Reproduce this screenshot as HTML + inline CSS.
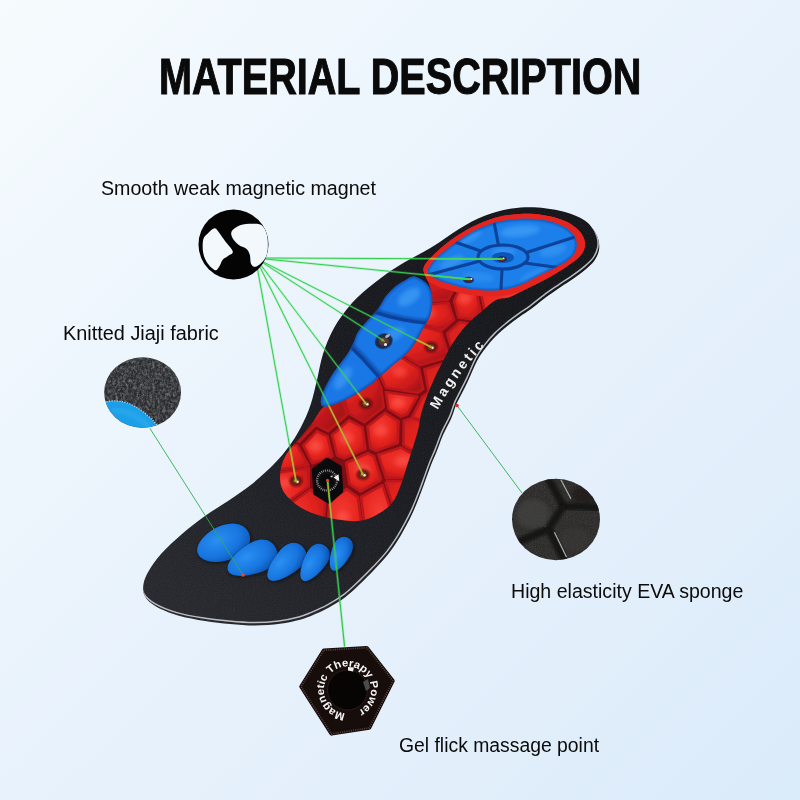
<!DOCTYPE html>
<html><head><meta charset="utf-8">
<style>
html,body{margin:0;padding:0;}
body{width:800px;height:800px;overflow:hidden;position:relative;background:#e8f2fc;font-family:"Liberation Sans",sans-serif;}
#bg{position:absolute;left:0;top:0;width:800px;height:800px;
background:linear-gradient(135deg,#f6fbfd 0%,#eef6fd 29%,#e8f2fc 50%,#e3effb 72%,#daebfa 100%);}
svg{position:absolute;left:0;top:0;}
.t{position:absolute;white-space:nowrap;color:#0b0b0b;transform-origin:0 0;line-height:1;filter:blur(0.3px);}
#title{left:159.3px;top:52px;font-size:50px;font-weight:bold;color:#0a0a0a;transform:scaleX(0.7915);-webkit-text-stroke:1.1px #0a0a0a;}
.lab{font-size:19.4px;transform:scaleX(0.995);}
</style></head><body>
<div id="bg"></div>
<div class="t" id="title">MATERIAL DESCRIPTION</div>
<div class="t lab" id="l1" style="left:101.2px;top:179.4px;transform:scaleX(1.0124);">Smooth weak magnetic magnet</div>
<div class="t lab" id="l2" style="left:63.1px;top:323.5px;transform:scaleX(1.025);">Knitted Jiaji fabric</div>
<div class="t lab" id="l3" style="left:511px;top:581.6px;transform:scaleX(1.009);">High elasticity EVA sponge</div>
<div class="t lab" id="l4" style="left:398.5px;top:735.8px;transform:scaleX(0.998);">Gel flick massage point</div>
<svg id="art" width="800" height="800" viewBox="0 0 800 800">
<defs>
<radialGradient id="gToe" cx="0.42" cy="0.35" r="0.75"><stop offset="0" stop-color="#2a8ff2"/><stop offset="0.6" stop-color="#1674de"/><stop offset="1" stop-color="#0d4da6"/></radialGradient>
<radialGradient id="gCell" cx="0.42" cy="0.38" r="0.72"><stop offset="0" stop-color="#f53d36"/><stop offset="0.55" stop-color="#e6251f"/><stop offset="0.85" stop-color="#c81a1c"/><stop offset="1" stop-color="#a81318"/></radialGradient>
<linearGradient id="gBody" gradientUnits="userSpaceOnUse" x1="560" y1="220" x2="200" y2="620"><stop offset="0" stop-color="#141519"/><stop offset="0.55" stop-color="#1a1b20"/><stop offset="1" stop-color="#26282e"/></linearGradient>
<radialGradient id="gBlue" cx="0.45" cy="0.38" r="0.75"><stop offset="0" stop-color="#3495f5"/><stop offset="0.55" stop-color="#1b7be8"/><stop offset="1" stop-color="#0f57bd"/></radialGradient>
<filter id="noise" x="0" y="0" width="1" height="1"><feTurbulence type="fractalNoise" baseFrequency="0.9" numOctaves="2" seed="3" result="n"/><feColorMatrix in="n" type="matrix" values="0 0 0 0 1  0 0 0 0 1  0 0 0 0 1  0.9 0.9 0.9 0 -1.05" result="m"/><feComposite in="m" in2="SourceGraphic" operator="in"/></filter>
<filter id="noiseF" x="0" y="0" width="1" height="1"><feTurbulence type="fractalNoise" baseFrequency="0.38 0.3" numOctaves="3" seed="5" result="n"/><feColorMatrix in="n" type="matrix" values="0 0 0 0 1  0 0 0 0 1  0 0 0 0 1  1.4 1.4 1.4 0 -1.75" result="m"/><feComposite in="m" in2="SourceGraphic" operator="in"/></filter>
<filter id="noiseD" x="0" y="0" width="1" height="1"><feTurbulence type="fractalNoise" baseFrequency="0.8" numOctaves="2" seed="8" result="n"/><feColorMatrix in="n" type="matrix" values="0 0 0 0 0  0 0 0 0 0  0 0 0 0 0  0.9 0.9 0.9 0 -1.0" result="m"/><feComposite in="m" in2="SourceGraphic" operator="in"/></filter>
<filter id="b03"><feGaussianBlur stdDeviation="0.3"/></filter>
<filter id="b05"><feGaussianBlur stdDeviation="0.5"/></filter>
<filter id="b1"><feGaussianBlur stdDeviation="1"/></filter>
<filter id="b2"><feGaussianBlur stdDeviation="2"/></filter>
<clipPath id="cRed"><path d="M423.5,268.5C424.3,263.6 429.4,259.2 434.0,254.5C438.6,249.8 444.7,244.6 451.0,240.0C457.3,235.4 464.5,230.7 472.0,227.0C479.5,223.3 488.0,219.8 496.0,217.6C504.0,215.4 512.1,214.4 520.0,214.0C527.9,213.6 536.0,214.0 543.5,215.2C551.0,216.4 559.1,218.4 565.0,221.0C570.9,223.6 575.7,227.0 579.0,230.6C582.3,234.2 584.6,238.5 585.0,242.5C585.4,246.5 584.5,250.5 581.5,254.5C578.5,258.5 572.6,262.4 567.0,266.3C561.4,270.2 554.3,274.4 548.0,278.0C541.7,281.6 535.3,284.4 529.0,287.6C522.7,290.8 515.5,294.9 510.0,297.0C504.5,299.1 500.8,297.5 496.0,300.0C491.2,302.5 486.0,307.8 481.0,312.0C476.0,316.2 470.8,320.2 466.0,325.5C461.2,330.8 456.2,337.8 452.5,343.5C448.8,349.2 446.5,354.2 443.5,360.0C440.5,365.8 437.2,372.0 434.5,378.0C431.8,384.0 429.2,390.0 427.0,396.0C424.8,402.0 422.5,408.3 421.0,414.0C419.5,419.7 419.5,424.0 418.0,430.0C416.5,436.0 414.0,443.5 412.0,450.0C410.0,456.5 408.0,462.8 406.0,469.0C404.0,475.2 402.3,481.3 400.0,487.0C397.7,492.7 395.7,498.5 392.0,503.0C388.3,507.5 383.3,511.0 378.0,514.0C372.7,517.0 366.8,519.9 360.0,520.8C353.2,521.7 345.0,520.7 337.5,519.6C330.0,518.5 321.8,516.4 315.0,514.0C308.2,511.6 302.2,508.8 297.0,505.0C291.8,501.2 286.3,496.3 283.5,491.5C280.7,486.7 280.0,481.2 280.0,476.0C280.0,470.8 281.7,464.7 283.5,460.0C285.3,455.3 288.2,451.7 291.0,448.0C293.8,444.3 296.4,442.2 300.0,438.0C303.6,433.8 308.8,427.5 312.5,422.5C316.2,417.5 319.2,410.9 322.5,408.0C325.8,405.1 327.9,406.8 332.5,405.0C337.1,403.2 343.8,400.8 350.0,397.5C356.2,394.2 363.3,390.0 370.0,385.0C376.7,380.0 383.3,373.3 390.0,367.5C396.7,361.7 404.2,357.1 410.0,350.0C415.8,342.9 421.5,331.2 425.0,325.0C428.5,318.8 429.8,317.3 431.0,312.5C432.2,307.7 432.3,300.8 432.0,296.0C431.7,291.2 430.4,288.6 429.0,284.0C427.6,279.4 422.7,273.4 423.5,268.5Z"/></clipPath>
<clipPath id="cOuter"><path d="M598.3,239.5C597.3,236.0 595.4,232.2 593.0,229.0C590.6,225.8 588.7,222.8 584.0,220.0C579.3,217.2 572.7,214.1 565.0,212.0C557.3,209.9 546.8,208.1 538.0,207.5C529.2,206.9 521.0,207.1 512.0,208.5C503.0,209.9 492.8,212.6 484.0,216.0C475.2,219.4 467.7,223.8 459.0,229.0C450.3,234.2 441.8,241.0 432.0,247.0C422.2,253.0 409.5,259.1 400.0,265.0C390.5,270.9 383.0,276.2 375.0,282.5C367.0,288.8 358.8,295.4 352.0,303.0C345.2,310.6 338.8,319.5 334.0,328.0C329.2,336.5 325.8,345.3 323.0,354.0C320.2,362.7 319.1,371.5 317.0,380.0C314.9,388.5 313.2,397.0 310.5,405.0C307.8,413.0 304.2,421.0 300.5,428.0C296.8,435.0 292.9,441.0 288.5,447.0C284.1,453.0 280.1,457.8 274.0,464.0C267.9,470.2 259.7,477.8 252.0,484.0C244.3,490.2 235.8,495.7 228.0,501.0C220.2,506.3 212.7,510.5 205.0,516.0C197.3,521.5 189.3,527.7 182.0,534.0C174.7,540.3 166.5,547.9 161.0,554.0C155.5,560.1 151.9,565.5 149.0,570.5C146.1,575.5 144.2,579.7 143.5,584.0C142.8,588.3 142.9,592.8 145.0,596.5C147.1,600.2 150.5,603.3 156.0,606.5C161.5,609.7 169.8,613.1 178.0,615.5C186.2,617.9 196.3,619.6 205.0,621.0C213.7,622.4 221.7,623.2 230.0,624.0C238.3,624.8 246.7,625.5 255.0,625.5C263.3,625.5 272.5,624.8 280.0,623.8C287.5,622.8 294.7,621.2 300.0,619.8C305.3,618.4 307.2,617.5 312.0,615.5C316.8,613.5 323.4,610.6 329.0,607.5C334.6,604.4 340.2,601.0 345.5,597.0C350.8,593.0 355.8,588.0 360.5,583.5C365.2,579.0 369.5,574.8 374.0,570.0C378.5,565.2 383.5,560.0 387.5,555.0C391.5,550.0 394.9,544.8 398.0,540.0C401.1,535.2 403.4,530.8 406.0,526.0C408.6,521.2 411.2,516.2 413.5,511.0C415.8,505.8 418.0,500.2 420.0,495.0C422.0,489.8 423.7,485.0 425.5,480.0C427.3,475.0 429.2,469.7 431.0,465.0C432.8,460.3 434.5,457.0 436.5,452.0C438.5,447.0 440.6,440.5 443.0,435.0C445.4,429.5 448.8,424.0 451.0,419.0C453.2,414.0 454.3,409.0 456.0,405.0C457.7,401.0 459.0,399.0 461.0,395.0C463.0,391.0 465.3,386.7 468.0,381.0C470.7,375.3 474.0,366.6 477.0,361.0C480.0,355.4 482.8,351.7 486.0,347.5C489.2,343.3 492.3,339.7 496.0,336.0C499.7,332.3 504.0,328.8 508.0,325.5C512.0,322.2 516.2,319.2 520.0,316.5C523.8,313.8 526.8,312.1 531.0,309.0C535.2,305.9 540.2,301.6 545.0,298.0C549.8,294.4 555.2,290.8 560.0,287.5C564.8,284.2 569.2,281.5 573.5,278.5C577.8,275.5 582.0,272.5 585.5,269.5C589.0,266.5 592.2,263.8 594.5,260.5C596.8,257.2 598.4,253.5 599.0,250.0C599.6,246.5 599.3,243.0 598.3,239.5Z"/></clipPath>
<clipPath id="cHeel"><path d="M428.3,268.6C429.9,265.4 434.4,259.9 439.0,255.6C443.6,251.2 449.7,246.7 455.6,242.5C461.5,238.3 467.9,234.0 474.6,230.6C481.3,227.2 488.5,224.3 496.0,222.3C503.5,220.3 511.9,219.2 519.8,218.8C527.7,218.4 536.4,218.8 543.5,220.0C550.6,221.2 557.6,223.6 562.5,226.0C567.4,228.4 570.6,231.0 573.0,234.2C575.4,237.4 577.0,241.2 576.8,245.0C576.6,248.8 575.2,253.2 572.0,256.8C568.8,260.4 563.3,263.1 557.8,266.3C552.3,269.5 545.1,272.6 538.8,275.8C532.5,279.0 526.1,282.9 519.8,285.3C513.5,287.7 507.5,289.2 500.8,290.0C494.1,290.8 486.5,290.6 479.4,290.0C472.3,289.4 464.7,288.0 458.0,286.4C451.3,284.8 443.8,282.5 439.0,280.5C434.2,278.5 431.3,276.6 429.5,274.6C427.7,272.6 426.7,271.8 428.3,268.6Z"/></clipPath>
<clipPath id="cArch"><path d="M414.0,276.5C410.2,276.0 407.0,279.4 404.0,281.0C401.0,282.6 399.0,283.5 396.0,286.0C393.0,288.5 389.0,292.2 386.0,296.0C383.0,299.8 381.0,305.0 378.0,309.0C375.0,313.0 371.3,316.2 368.0,320.0C364.7,323.8 360.5,328.0 358.0,332.0C355.5,336.0 355.0,340.0 353.0,344.0C351.0,348.0 349.2,351.3 346.0,356.0C342.8,360.7 337.5,366.7 334.0,372.0C330.5,377.3 327.2,383.5 325.0,388.0C322.8,392.5 321.4,396.0 321.0,399.0C320.6,402.0 320.6,405.0 322.5,406.0C324.4,407.0 327.9,406.4 332.5,405.0C337.1,403.6 343.8,400.8 350.0,397.5C356.2,394.2 363.3,390.0 370.0,385.0C376.7,380.0 383.3,373.3 390.0,367.5C396.7,361.7 404.2,357.1 410.0,350.0C415.8,342.9 421.5,331.2 425.0,325.0C428.5,318.8 429.8,317.3 431.0,312.5C432.2,307.7 432.7,300.8 432.0,296.0C431.3,291.2 430.0,287.2 427.0,284.0C424.0,280.8 417.8,277.0 414.0,276.5Z"/></clipPath>
</defs><path d="M598.3,239.5C597.3,236.0 595.4,232.2 593.0,229.0C590.6,225.8 588.7,222.8 584.0,220.0C579.3,217.2 572.7,214.1 565.0,212.0C557.3,209.9 546.8,208.1 538.0,207.5C529.2,206.9 521.0,207.1 512.0,208.5C503.0,209.9 492.8,212.6 484.0,216.0C475.2,219.4 467.7,223.8 459.0,229.0C450.3,234.2 441.8,241.0 432.0,247.0C422.2,253.0 409.5,259.1 400.0,265.0C390.5,270.9 383.0,276.2 375.0,282.5C367.0,288.8 358.8,295.4 352.0,303.0C345.2,310.6 338.8,319.5 334.0,328.0C329.2,336.5 325.8,345.3 323.0,354.0C320.2,362.7 319.1,371.5 317.0,380.0C314.9,388.5 313.2,397.0 310.5,405.0C307.8,413.0 304.2,421.0 300.5,428.0C296.8,435.0 292.9,441.0 288.5,447.0C284.1,453.0 280.1,457.8 274.0,464.0C267.9,470.2 259.7,477.8 252.0,484.0C244.3,490.2 235.8,495.7 228.0,501.0C220.2,506.3 212.7,510.5 205.0,516.0C197.3,521.5 189.3,527.7 182.0,534.0C174.7,540.3 166.5,547.9 161.0,554.0C155.5,560.1 151.9,565.5 149.0,570.5C146.1,575.5 144.2,579.7 143.5,584.0C142.8,588.3 142.9,592.8 145.0,596.5C147.1,600.2 150.5,603.3 156.0,606.5C161.5,609.7 169.8,613.1 178.0,615.5C186.2,617.9 196.3,619.6 205.0,621.0C213.7,622.4 221.7,623.2 230.0,624.0C238.3,624.8 246.7,625.5 255.0,625.5C263.3,625.5 272.5,624.8 280.0,623.8C287.5,622.8 294.7,621.2 300.0,619.8C305.3,618.4 307.2,617.5 312.0,615.5C316.8,613.5 323.4,610.6 329.0,607.5C334.6,604.4 340.2,601.0 345.5,597.0C350.8,593.0 355.8,588.0 360.5,583.5C365.2,579.0 369.5,574.8 374.0,570.0C378.5,565.2 383.5,560.0 387.5,555.0C391.5,550.0 394.9,544.8 398.0,540.0C401.1,535.2 403.4,530.8 406.0,526.0C408.6,521.2 411.2,516.2 413.5,511.0C415.8,505.8 418.0,500.2 420.0,495.0C422.0,489.8 423.7,485.0 425.5,480.0C427.3,475.0 429.2,469.7 431.0,465.0C432.8,460.3 434.5,457.0 436.5,452.0C438.5,447.0 440.6,440.5 443.0,435.0C445.4,429.5 448.8,424.0 451.0,419.0C453.2,414.0 454.3,409.0 456.0,405.0C457.7,401.0 459.0,399.0 461.0,395.0C463.0,391.0 465.3,386.7 468.0,381.0C470.7,375.3 474.0,366.6 477.0,361.0C480.0,355.4 482.8,351.7 486.0,347.5C489.2,343.3 492.3,339.7 496.0,336.0C499.7,332.3 504.0,328.8 508.0,325.5C512.0,322.2 516.2,319.2 520.0,316.5C523.8,313.8 526.8,312.1 531.0,309.0C535.2,305.9 540.2,301.6 545.0,298.0C549.8,294.4 555.2,290.8 560.0,287.5C564.8,284.2 569.2,281.5 573.5,278.5C577.8,275.5 582.0,272.5 585.5,269.5C589.0,266.5 592.2,263.8 594.5,260.5C596.8,257.2 598.4,253.5 599.0,250.0C599.6,246.5 599.3,243.0 598.3,239.5Z" fill="url(#gBody)"/><path d="M598.3,239.5C597.3,236.0 595.4,232.2 593.0,229.0C590.6,225.8 588.7,222.8 584.0,220.0C579.3,217.2 572.7,214.1 565.0,212.0C557.3,209.9 546.8,208.1 538.0,207.5C529.2,206.9 521.0,207.1 512.0,208.5C503.0,209.9 492.8,212.6 484.0,216.0C475.2,219.4 467.7,223.8 459.0,229.0C450.3,234.2 441.8,241.0 432.0,247.0C422.2,253.0 409.5,259.1 400.0,265.0C390.5,270.9 383.0,276.2 375.0,282.5C367.0,288.8 358.8,295.4 352.0,303.0C345.2,310.6 338.8,319.5 334.0,328.0C329.2,336.5 325.8,345.3 323.0,354.0C320.2,362.7 319.1,371.5 317.0,380.0C314.9,388.5 313.2,397.0 310.5,405.0C307.8,413.0 304.2,421.0 300.5,428.0C296.8,435.0 292.9,441.0 288.5,447.0C284.1,453.0 280.1,457.8 274.0,464.0C267.9,470.2 259.7,477.8 252.0,484.0C244.3,490.2 235.8,495.7 228.0,501.0C220.2,506.3 212.7,510.5 205.0,516.0C197.3,521.5 189.3,527.7 182.0,534.0C174.7,540.3 166.5,547.9 161.0,554.0C155.5,560.1 151.9,565.5 149.0,570.5C146.1,575.5 144.2,579.7 143.5,584.0C142.8,588.3 142.9,592.8 145.0,596.5C147.1,600.2 150.5,603.3 156.0,606.5C161.5,609.7 169.8,613.1 178.0,615.5C186.2,617.9 196.3,619.6 205.0,621.0C213.7,622.4 221.7,623.2 230.0,624.0C238.3,624.8 246.7,625.5 255.0,625.5C263.3,625.5 272.5,624.8 280.0,623.8C287.5,622.8 294.7,621.2 300.0,619.8C305.3,618.4 307.2,617.5 312.0,615.5C316.8,613.5 323.4,610.6 329.0,607.5C334.6,604.4 340.2,601.0 345.5,597.0C350.8,593.0 355.8,588.0 360.5,583.5C365.2,579.0 369.5,574.8 374.0,570.0C378.5,565.2 383.5,560.0 387.5,555.0C391.5,550.0 394.9,544.8 398.0,540.0C401.1,535.2 403.4,530.8 406.0,526.0C408.6,521.2 411.2,516.2 413.5,511.0C415.8,505.8 418.0,500.2 420.0,495.0C422.0,489.8 423.7,485.0 425.5,480.0C427.3,475.0 429.2,469.7 431.0,465.0C432.8,460.3 434.5,457.0 436.5,452.0C438.5,447.0 440.6,440.5 443.0,435.0C445.4,429.5 448.8,424.0 451.0,419.0C453.2,414.0 454.3,409.0 456.0,405.0C457.7,401.0 459.0,399.0 461.0,395.0C463.0,391.0 465.3,386.7 468.0,381.0C470.7,375.3 474.0,366.6 477.0,361.0C480.0,355.4 482.8,351.7 486.0,347.5C489.2,343.3 492.3,339.7 496.0,336.0C499.7,332.3 504.0,328.8 508.0,325.5C512.0,322.2 516.2,319.2 520.0,316.5C523.8,313.8 526.8,312.1 531.0,309.0C535.2,305.9 540.2,301.6 545.0,298.0C549.8,294.4 555.2,290.8 560.0,287.5C564.8,284.2 569.2,281.5 573.5,278.5C577.8,275.5 582.0,272.5 585.5,269.5C589.0,266.5 592.2,263.8 594.5,260.5C596.8,257.2 598.4,253.5 599.0,250.0C599.6,246.5 599.3,243.0 598.3,239.5Z" fill="#fff" opacity="0.055" filter="url(#noise)"/><g clip-path="url(#cOuter)"><path d="M598.3,239.5C597.3,236.0 595.4,232.2 593.0,229.0C590.6,225.8 588.7,222.8 584.0,220.0C579.3,217.2 572.7,214.1 565.0,212.0C557.3,209.9 546.8,208.1 538.0,207.5C529.2,206.9 521.0,207.1 512.0,208.5C503.0,209.9 492.8,212.6 484.0,216.0C475.2,219.4 467.7,223.8 459.0,229.0C450.3,234.2 441.8,241.0 432.0,247.0C422.2,253.0 409.5,259.1 400.0,265.0C390.5,270.9 383.0,276.2 375.0,282.5C367.0,288.8 358.8,295.4 352.0,303.0C345.2,310.6 338.8,319.5 334.0,328.0C329.2,336.5 325.8,345.3 323.0,354.0C320.2,362.7 319.1,371.5 317.0,380.0C314.9,388.5 313.2,397.0 310.5,405.0C307.8,413.0 304.2,421.0 300.5,428.0C296.8,435.0 292.9,441.0 288.5,447.0C284.1,453.0 280.1,457.8 274.0,464.0C267.9,470.2 259.7,477.8 252.0,484.0C244.3,490.2 235.8,495.7 228.0,501.0C220.2,506.3 212.7,510.5 205.0,516.0C197.3,521.5 189.3,527.7 182.0,534.0C174.7,540.3 166.5,547.9 161.0,554.0C155.5,560.1 151.9,565.5 149.0,570.5C146.1,575.5 144.2,579.7 143.5,584.0C142.8,588.3 142.9,592.8 145.0,596.5C147.1,600.2 150.5,603.3 156.0,606.5C161.5,609.7 169.8,613.1 178.0,615.5C186.2,617.9 196.3,619.6 205.0,621.0C213.7,622.4 221.7,623.2 230.0,624.0C238.3,624.8 246.7,625.5 255.0,625.5C263.3,625.5 272.5,624.8 280.0,623.8C287.5,622.8 294.7,621.2 300.0,619.8C305.3,618.4 307.2,617.5 312.0,615.5C316.8,613.5 323.4,610.6 329.0,607.5C334.6,604.4 340.2,601.0 345.5,597.0C350.8,593.0 355.8,588.0 360.5,583.5C365.2,579.0 369.5,574.8 374.0,570.0C378.5,565.2 383.5,560.0 387.5,555.0C391.5,550.0 394.9,544.8 398.0,540.0C401.1,535.2 403.4,530.8 406.0,526.0C408.6,521.2 411.2,516.2 413.5,511.0C415.8,505.8 418.0,500.2 420.0,495.0C422.0,489.8 423.7,485.0 425.5,480.0C427.3,475.0 429.2,469.7 431.0,465.0C432.8,460.3 434.5,457.0 436.5,452.0C438.5,447.0 440.6,440.5 443.0,435.0C445.4,429.5 448.8,424.0 451.0,419.0C453.2,414.0 454.3,409.0 456.0,405.0C457.7,401.0 459.0,399.0 461.0,395.0C463.0,391.0 465.3,386.7 468.0,381.0C470.7,375.3 474.0,366.6 477.0,361.0C480.0,355.4 482.8,351.7 486.0,347.5C489.2,343.3 492.3,339.7 496.0,336.0C499.7,332.3 504.0,328.8 508.0,325.5C512.0,322.2 516.2,319.2 520.0,316.5C523.8,313.8 526.8,312.1 531.0,309.0C535.2,305.9 540.2,301.6 545.0,298.0C549.8,294.4 555.2,290.8 560.0,287.5C564.8,284.2 569.2,281.5 573.5,278.5C577.8,275.5 582.0,272.5 585.5,269.5C589.0,266.5 592.2,263.8 594.5,260.5C596.8,257.2 598.4,253.5 599.0,250.0C599.6,246.5 599.3,243.0 598.3,239.5Z" fill="none" stroke="#c2c6cb" stroke-width="1.5" transform="translate(-1.2,-2.9)" opacity="0.95" filter="url(#b05)"/></g><path d="M423.5,268.5C424.3,263.6 429.4,259.2 434.0,254.5C438.6,249.8 444.7,244.6 451.0,240.0C457.3,235.4 464.5,230.7 472.0,227.0C479.5,223.3 488.0,219.8 496.0,217.6C504.0,215.4 512.1,214.4 520.0,214.0C527.9,213.6 536.0,214.0 543.5,215.2C551.0,216.4 559.1,218.4 565.0,221.0C570.9,223.6 575.7,227.0 579.0,230.6C582.3,234.2 584.6,238.5 585.0,242.5C585.4,246.5 584.5,250.5 581.5,254.5C578.5,258.5 572.6,262.4 567.0,266.3C561.4,270.2 554.3,274.4 548.0,278.0C541.7,281.6 535.3,284.4 529.0,287.6C522.7,290.8 515.5,294.9 510.0,297.0C504.5,299.1 500.8,297.5 496.0,300.0C491.2,302.5 486.0,307.8 481.0,312.0C476.0,316.2 470.8,320.2 466.0,325.5C461.2,330.8 456.2,337.8 452.5,343.5C448.8,349.2 446.5,354.2 443.5,360.0C440.5,365.8 437.2,372.0 434.5,378.0C431.8,384.0 429.2,390.0 427.0,396.0C424.8,402.0 422.5,408.3 421.0,414.0C419.5,419.7 419.5,424.0 418.0,430.0C416.5,436.0 414.0,443.5 412.0,450.0C410.0,456.5 408.0,462.8 406.0,469.0C404.0,475.2 402.3,481.3 400.0,487.0C397.7,492.7 395.7,498.5 392.0,503.0C388.3,507.5 383.3,511.0 378.0,514.0C372.7,517.0 366.8,519.9 360.0,520.8C353.2,521.7 345.0,520.7 337.5,519.6C330.0,518.5 321.8,516.4 315.0,514.0C308.2,511.6 302.2,508.8 297.0,505.0C291.8,501.2 286.3,496.3 283.5,491.5C280.7,486.7 280.0,481.2 280.0,476.0C280.0,470.8 281.7,464.7 283.5,460.0C285.3,455.3 288.2,451.7 291.0,448.0C293.8,444.3 296.4,442.2 300.0,438.0C303.6,433.8 308.8,427.5 312.5,422.5C316.2,417.5 319.2,410.9 322.5,408.0C325.8,405.1 327.9,406.8 332.5,405.0C337.1,403.2 343.8,400.8 350.0,397.5C356.2,394.2 363.3,390.0 370.0,385.0C376.7,380.0 383.3,373.3 390.0,367.5C396.7,361.7 404.2,357.1 410.0,350.0C415.8,342.9 421.5,331.2 425.0,325.0C428.5,318.8 429.8,317.3 431.0,312.5C432.2,307.7 432.3,300.8 432.0,296.0C431.7,291.2 430.4,288.6 429.0,284.0C427.6,279.4 422.7,273.4 423.5,268.5Z" fill="#800d12"/><g clip-path="url(#cRed)"><g filter="url(#b05)"><path d="M381.2,387.8 L383.7,407.2 L364.2,422.2 L349.4,413.9 L305.4,285.6 L336.8,307.1 L357.6,332.5Z" fill="url(#gCell)" stroke="#bd181b" stroke-width="2.6" stroke-linejoin="round"/><path d="M303.6,286.0 L347.3,414.5 L328.2,431.1 L316.3,425.0 L252.0,291.8 L251.3,238.4Z" fill="url(#gCell)" stroke="#bd181b" stroke-width="2.6" stroke-linejoin="round"/><path d="M397.9,442.9 L376.4,450.8 L370.3,447.9 L367.5,426.6 L385.1,412.8 L398.5,421.4Z" fill="url(#gCell)" stroke="#bd181b" stroke-width="2.6" stroke-linejoin="round"/><path d="M337.1,455.3 L332.2,435.1 L349.0,420.1 L362.5,427.4 L365.5,449.0 L344.1,458.4Z" fill="url(#gCell)" stroke="#bd181b" stroke-width="2.6" stroke-linejoin="round"/><path d="M317.0,431.2 L327.4,436.5 L332.4,456.4 L312.3,463.2 L312.3,463.2 L303.4,445.4Z" fill="url(#gCell)" stroke="#bd181b" stroke-width="2.6" stroke-linejoin="round"/><path d="M346.1,462.8 L368.0,453.3 L374.0,456.4 L381.0,479.0 L380.0,480.5 L360.2,491.5 L349.4,484.2Z" fill="url(#gCell)" stroke="#bd181b" stroke-width="2.6" stroke-linejoin="round"/><path d="M386.2,478.3 L378.3,454.7 L401.1,447.6 L453.1,477.0Z" fill="url(#gCell)" stroke="#bd181b" stroke-width="2.6" stroke-linejoin="round"/><path d="M252.0,527.5 L253.0,476.7 L308.7,468.0 L308.8,468.0 L308.8,486.5Z" fill="url(#gCell)" stroke="#bd181b" stroke-width="2.6" stroke-linejoin="round"/><path d="M252.4,474.1 L252.3,431.4 L297.6,445.8 L308.3,465.1Z" fill="url(#gCell)" stroke="#bd181b" stroke-width="2.6" stroke-linejoin="round"/><path d="M366.2,557.3 L324.4,557.3 L329.7,500.1 L346.7,489.1 L357.8,497.1Z" fill="url(#gCell)" stroke="#bd181b" stroke-width="2.6" stroke-linejoin="round"/><path d="M320.8,557.7 L252.4,558.1 L253.1,529.7 L310.5,489.5 L325.4,499.6Z" fill="url(#gCell)" stroke="#bd181b" stroke-width="2.6" stroke-linejoin="round"/><path d="M406.1,557.6 L368.7,557.1 L361.0,497.0 L382.5,485.1Z" fill="url(#gCell)" stroke="#bd181b" stroke-width="2.6" stroke-linejoin="round"/><path d="M407.2,414.2 L400.7,416.4 L388.5,409.0 L385.7,392.0 L417.3,396.5Z" fill="url(#gCell)" stroke="#bd181b" stroke-width="2.6" stroke-linejoin="round"/><path d="M617.0,498.7 L617.2,524.6 L459.1,477.2 L403.6,445.2 L403.7,420.9 L411.9,418.1 L602.0,491.5Z" fill="url(#gCell)" stroke="#bd181b" stroke-width="2.6" stroke-linejoin="round"/><path d="M482.4,320.5 L458.4,317.5 L454.0,301.1 L470.9,264.7Z" fill="url(#gCell)" stroke="#bd181b" stroke-width="2.6" stroke-linejoin="round"/><path d="M441.2,332.1 L448.8,356.8 L420.0,365.2 L361.0,329.7 L338.7,305.4 L369.5,310.6Z" fill="url(#gCell)" stroke="#bd181b" stroke-width="2.6" stroke-linejoin="round"/><path d="M617.4,431.8 L617.4,438.6 L454.7,358.6 L447.1,333.5 L459.5,322.3 L486.1,325.5Z" fill="url(#gCell)" stroke="#bd181b" stroke-width="2.6" stroke-linejoin="round"/><path d="M616.9,439.8 L617.6,497.6 L602.6,490.2 L428.7,391.7 L424.6,369.2 L453.9,360.2Z" fill="url(#gCell)" stroke="#bd181b" stroke-width="2.6" stroke-linejoin="round"/><path d="M417.9,392.7 L385.9,387.8 L360.1,331.6 L418.9,368.7 L423.2,388.9Z" fill="url(#gCell)" stroke="#bd181b" stroke-width="2.6" stroke-linejoin="round"/><path d="M252.7,201.5 L477.6,201.5 L468.3,261.6 L448.1,299.7 L366.9,305.5 L337.6,301.5 L306.7,281.9 L253.0,236.3Z" fill="url(#gCell)" stroke="#bd181b" stroke-width="2.6" stroke-linejoin="round"/><path d="M482.0,202.6 L617.8,202.2 L618.5,430.7 L486.9,321.0 L474.3,262.6Z" fill="url(#gCell)" stroke="#bd181b" stroke-width="2.6" stroke-linejoin="round"/><path d="M448.4,302.8 L454.1,319.8 L442.3,329.7 L370.2,309.0Z" fill="url(#gCell)" stroke="#bd181b" stroke-width="2.6" stroke-linejoin="round"/><path d="M602.2,490.8 L412.3,416.9 L422.6,396.7 L428.2,392.6Z" fill="url(#gCell)" stroke="#bd181b" stroke-width="2.6" stroke-linejoin="round"/><path d="M616.9,525.7 L617.0,559.0 L410.7,558.3 L385.7,483.0 L386.7,481.3 L457.7,480.5Z" fill="url(#gCell)" stroke="#bd181b" stroke-width="2.6" stroke-linejoin="round"/><path d="M252.1,427.1 L250.8,292.4 L314.5,426.1 L299.1,441.8Z" fill="url(#gCell)" stroke="#bd181b" stroke-width="2.6" stroke-linejoin="round"/></g><g filter="url(#b2)"><ellipse cx="352.4" cy="362.9" rx="7" ry="5" fill="#ff5a4e" opacity="0.5"/><ellipse cx="297.8" cy="345.3" rx="7" ry="5" fill="#ff5a4e" opacity="0.5"/><ellipse cx="380.6" cy="431.3" rx="7" ry="5" fill="#ff5a4e" opacity="0.5"/><ellipse cx="346.3" cy="438.4" rx="7" ry="5" fill="#ff5a4e" opacity="0.5"/><ellipse cx="315.4" cy="446.9" rx="7" ry="5" fill="#ff5a4e" opacity="0.5"/><ellipse cx="363.7" cy="470.1" rx="7" ry="5" fill="#ff5a4e" opacity="0.5"/><ellipse cx="402.0" cy="461.6" rx="7" ry="5" fill="#ff5a4e" opacity="0.5"/><ellipse cx="284.9" cy="482.5" rx="7" ry="5" fill="#ff5a4e" opacity="0.5"/><ellipse cx="275.9" cy="451.5" rx="7" ry="5" fill="#ff5a4e" opacity="0.5"/><ellipse cx="342.9" cy="517.1" rx="7" ry="5" fill="#ff5a4e" opacity="0.5"/><ellipse cx="377.5" cy="521.6" rx="7" ry="5" fill="#ff5a4e" opacity="0.5"/><ellipse cx="397.8" cy="403.6" rx="7" ry="5" fill="#ff5a4e" opacity="0.5"/><ellipse cx="464.0" cy="299.0" rx="7" ry="5" fill="#ff5a4e" opacity="0.5"/><ellipse cx="394.5" cy="330.8" rx="7" ry="5" fill="#ff5a4e" opacity="0.5"/><ellipse cx="399.8" cy="372.0" rx="7" ry="5" fill="#ff5a4e" opacity="0.5"/><ellipse cx="427.9" cy="313.0" rx="7" ry="5" fill="#ff5a4e" opacity="0.5"/><ellipse cx="463.0" cy="421.1" rx="7" ry="5" fill="#ff5a4e" opacity="0.5"/><ellipse cx="476.4" cy="511.8" rx="7" ry="5" fill="#ff5a4e" opacity="0.5"/><ellipse cx="277.3" cy="395.3" rx="7" ry="5" fill="#ff5a4e" opacity="0.5"/></g></g><g clip-path="url(#cRed)"><path d="M428.3,268.6C429.9,265.4 434.4,259.9 439.0,255.6C443.6,251.2 449.7,246.7 455.6,242.5C461.5,238.3 467.9,234.0 474.6,230.6C481.3,227.2 488.5,224.3 496.0,222.3C503.5,220.3 511.9,219.2 519.8,218.8C527.7,218.4 536.4,218.8 543.5,220.0C550.6,221.2 557.6,223.6 562.5,226.0C567.4,228.4 570.6,231.0 573.0,234.2C575.4,237.4 577.0,241.2 576.8,245.0C576.6,248.8 575.2,253.2 572.0,256.8C568.8,260.4 563.3,263.1 557.8,266.3C552.3,269.5 545.1,272.6 538.8,275.8C532.5,279.0 526.1,282.9 519.8,285.3C513.5,287.7 507.5,289.2 500.8,290.0C494.1,290.8 486.5,290.6 479.4,290.0C472.3,289.4 464.7,288.0 458.0,286.4C451.3,284.8 443.8,282.5 439.0,280.5C434.2,278.5 431.3,276.6 429.5,274.6C427.7,272.6 426.7,271.8 428.3,268.6Z" fill="none" stroke="#e3241f" stroke-width="12" stroke-linejoin="round"/></g><path d="M428.3,268.6C429.9,265.4 434.4,259.9 439.0,255.6C443.6,251.2 449.7,246.7 455.6,242.5C461.5,238.3 467.9,234.0 474.6,230.6C481.3,227.2 488.5,224.3 496.0,222.3C503.5,220.3 511.9,219.2 519.8,218.8C527.7,218.4 536.4,218.8 543.5,220.0C550.6,221.2 557.6,223.6 562.5,226.0C567.4,228.4 570.6,231.0 573.0,234.2C575.4,237.4 577.0,241.2 576.8,245.0C576.6,248.8 575.2,253.2 572.0,256.8C568.8,260.4 563.3,263.1 557.8,266.3C552.3,269.5 545.1,272.6 538.8,275.8C532.5,279.0 526.1,282.9 519.8,285.3C513.5,287.7 507.5,289.2 500.8,290.0C494.1,290.8 486.5,290.6 479.4,290.0C472.3,289.4 464.7,288.0 458.0,286.4C451.3,284.8 443.8,282.5 439.0,280.5C434.2,278.5 431.3,276.6 429.5,274.6C427.7,272.6 426.7,271.8 428.3,268.6Z" fill="#1c7fea"/><g clip-path="url(#cHeel)"><ellipse cx="520" cy="231" rx="20" ry="6" fill="#4aa6fa" opacity="0.6" filter="url(#b2)" transform="rotate(-6 520 231)"/><ellipse cx="470" cy="237" rx="13" ry="5" fill="#4aa6fa" opacity="0.5" filter="url(#b2)" transform="rotate(-28 470 237)"/><ellipse cx="553" cy="250" rx="14" ry="6" fill="#4aa6fa" opacity="0.45" filter="url(#b2)" transform="rotate(-15 553 250)"/><ellipse cx="535" cy="275" rx="16" ry="5" fill="#4aa6fa" opacity="0.35" filter="url(#b2)" transform="rotate(-22 535 275)"/><ellipse cx="478" cy="277" rx="16" ry="5" fill="#4aa6fa" opacity="0.35" filter="url(#b2)" transform="rotate(5 478 277)"/><ellipse cx="452" cy="262" rx="13" ry="5" fill="#4aa6fa" opacity="0.5" filter="url(#b2)" transform="rotate(-25 452 262)"/><ellipse cx="504" cy="252" rx="12" ry="4" fill="#4aa6fa" opacity="0.5" filter="url(#b2)" transform="rotate(0 504 252)"/><g filter="url(#b05)" stroke="#0a429a" stroke-width="3.1" fill="none" stroke-linecap="round"><ellipse cx="503" cy="257" rx="25" ry="12"/><path d="M498.4,245 L493.6,220"/><path d="M528,252 L578,236"/><path d="M524.5,263 L562,268"/><path d="M502,269.5 L500.8,293"/><path d="M478.2,261.5 L428,275"/><path d="M480.6,251 L452,241"/></g><ellipse cx="503" cy="257.5" rx="11" ry="5.5" fill="#0e55b8" filter="url(#b05)"/><path d="M428.3,268.6C429.9,265.4 434.4,259.9 439.0,255.6C443.6,251.2 449.7,246.7 455.6,242.5C461.5,238.3 467.9,234.0 474.6,230.6C481.3,227.2 488.5,224.3 496.0,222.3C503.5,220.3 511.9,219.2 519.8,218.8C527.7,218.4 536.4,218.8 543.5,220.0C550.6,221.2 557.6,223.6 562.5,226.0C567.4,228.4 570.6,231.0 573.0,234.2C575.4,237.4 577.0,241.2 576.8,245.0C576.6,248.8 575.2,253.2 572.0,256.8C568.8,260.4 563.3,263.1 557.8,266.3C552.3,269.5 545.1,272.6 538.8,275.8C532.5,279.0 526.1,282.9 519.8,285.3C513.5,287.7 507.5,289.2 500.8,290.0C494.1,290.8 486.5,290.6 479.4,290.0C472.3,289.4 464.7,288.0 458.0,286.4C451.3,284.8 443.8,282.5 439.0,280.5C434.2,278.5 431.3,276.6 429.5,274.6C427.7,272.6 426.7,271.8 428.3,268.6Z" fill="none" stroke="#0b48a4" stroke-width="2.5" filter="url(#b1)" opacity="0.8"/></g><path d="M414.0,276.5C410.2,276.0 407.0,279.4 404.0,281.0C401.0,282.6 399.0,283.5 396.0,286.0C393.0,288.5 389.0,292.2 386.0,296.0C383.0,299.8 381.0,305.0 378.0,309.0C375.0,313.0 371.3,316.2 368.0,320.0C364.7,323.8 360.5,328.0 358.0,332.0C355.5,336.0 355.0,340.0 353.0,344.0C351.0,348.0 349.2,351.3 346.0,356.0C342.8,360.7 337.5,366.7 334.0,372.0C330.5,377.3 327.2,383.5 325.0,388.0C322.8,392.5 321.4,396.0 321.0,399.0C320.6,402.0 320.6,405.0 322.5,406.0C324.4,407.0 327.9,406.4 332.5,405.0C337.1,403.6 343.8,400.8 350.0,397.5C356.2,394.2 363.3,390.0 370.0,385.0C376.7,380.0 383.3,373.3 390.0,367.5C396.7,361.7 404.2,357.1 410.0,350.0C415.8,342.9 421.5,331.2 425.0,325.0C428.5,318.8 429.8,317.3 431.0,312.5C432.2,307.7 432.7,300.8 432.0,296.0C431.3,291.2 430.0,287.2 427.0,284.0C424.0,280.8 417.8,277.0 414.0,276.5Z" fill="#1a78e6"/><g clip-path="url(#cArch)"><ellipse cx="409" cy="297" rx="13" ry="7" fill="#4aa6fa" opacity="0.6" filter="url(#b2)" transform="rotate(-35 409 297)"/><ellipse cx="392" cy="335" rx="14" ry="6" fill="#4aa6fa" opacity="0.5" filter="url(#b2)" transform="rotate(-25 392 335)"/><ellipse cx="343" cy="378" rx="13" ry="6" fill="#4aa6fa" opacity="0.55" filter="url(#b2)" transform="rotate(-55 343 378)"/><g filter="url(#b1)" stroke="#0a3a8c" stroke-width="5" fill="none" stroke-linecap="round" opacity="0.55"><path d="M374,310.5 Q400,319.5 430,322"/><path d="M350,343.5 L363,356.5 L379,374.5"/></g><g filter="url(#b05)" stroke="#0a419a" stroke-width="3.2" fill="none" stroke-linecap="round"><path d="M374,312 Q400,321 430,323.5"/><path d="M349,345 L362,358 L378,376"/></g><path d="M414.0,276.5C410.2,276.0 407.0,279.4 404.0,281.0C401.0,282.6 399.0,283.5 396.0,286.0C393.0,288.5 389.0,292.2 386.0,296.0C383.0,299.8 381.0,305.0 378.0,309.0C375.0,313.0 371.3,316.2 368.0,320.0C364.7,323.8 360.5,328.0 358.0,332.0C355.5,336.0 355.0,340.0 353.0,344.0C351.0,348.0 349.2,351.3 346.0,356.0C342.8,360.7 337.5,366.7 334.0,372.0C330.5,377.3 327.2,383.5 325.0,388.0C322.8,392.5 321.4,396.0 321.0,399.0C320.6,402.0 320.6,405.0 322.5,406.0C324.4,407.0 327.9,406.4 332.5,405.0C337.1,403.6 343.8,400.8 350.0,397.5C356.2,394.2 363.3,390.0 370.0,385.0C376.7,380.0 383.3,373.3 390.0,367.5C396.7,361.7 404.2,357.1 410.0,350.0C415.8,342.9 421.5,331.2 425.0,325.0C428.5,318.8 429.8,317.3 431.0,312.5C432.2,307.7 432.7,300.8 432.0,296.0C431.3,291.2 430.0,287.2 427.0,284.0C424.0,280.8 417.8,277.0 414.0,276.5Z" fill="none" stroke="#0b45a0" stroke-width="3" filter="url(#b1)" opacity="0.75"/></g><path d="M-28.30,0 C-28.30,-11.35 -9.91,-18.30 2.83,-18.30 C18.68,-18.30 28.30,-10.61 28.30,0 C28.30,10.61 18.68,18.30 2.83,18.30 C-9.91,18.30 -28.30,11.35 -28.30,0Z" transform="translate(224.3,544.5) rotate(-22)" fill="#0a0b10" opacity="0.55" filter="url(#b1)"/><path d="M-27.50,0 C-27.50,-10.85 -9.62,-17.50 2.75,-17.50 C18.15,-17.50 27.50,-10.15 27.50,0 C27.50,10.15 18.15,17.50 2.75,17.50 C-9.62,17.50 -27.50,10.85 -27.50,0Z" transform="translate(223.5,543.5) rotate(-22)" fill="url(#gToe)"/><path d="M-27.30,0 C-27.30,-10.11 -4.10,-16.30 8.19,-16.30 C20.20,-16.30 27.30,-9.45 27.30,0 C27.30,9.45 20.20,16.30 8.19,16.30 C-4.10,16.30 -27.30,10.11 -27.30,0Z" transform="translate(252.8,560.5) rotate(-26)" fill="#0a0b10" opacity="0.55" filter="url(#b1)"/><path d="M-26.50,0 C-26.50,-9.61 -3.98,-15.50 7.95,-15.50 C19.61,-15.50 26.50,-8.99 26.50,0 C26.50,8.99 19.61,15.50 7.95,15.50 C-3.98,15.50 -26.50,9.61 -26.50,0Z" transform="translate(252,559.5) rotate(-26)" fill="url(#gToe)"/><path d="M-24.30,0 C-24.30,-8.68 -2.43,-14.00 8.50,-14.00 C18.47,-14.00 24.30,-8.12 24.30,0 C24.30,8.12 18.47,14.00 8.50,14.00 C-2.43,14.00 -24.30,8.68 -24.30,0Z" transform="translate(286.6,564.0) rotate(-44)" fill="#0a0b10" opacity="0.55" filter="url(#b1)"/><path d="M-23.50,0 C-23.50,-8.18 -2.35,-13.20 8.22,-13.20 C17.86,-13.20 23.50,-7.66 23.50,0 C23.50,7.66 17.86,13.20 8.22,13.20 C-2.35,13.20 -23.50,8.18 -23.50,0Z" transform="translate(285.8,563) rotate(-44)" fill="url(#gToe)"/><path d="M-21.30,0 C-21.30,-7.50 -2.13,-12.10 7.46,-12.10 C16.19,-12.10 21.30,-7.02 21.30,0 C21.30,7.02 16.19,12.10 7.46,12.10 C-2.13,12.10 -21.30,7.50 -21.30,0Z" transform="translate(314.6,564.0) rotate(-58)" fill="#0a0b10" opacity="0.55" filter="url(#b1)"/><path d="M-20.50,0 C-20.50,-7.01 -2.05,-11.30 7.17,-11.30 C15.58,-11.30 20.50,-6.55 20.50,0 C20.50,6.55 15.58,11.30 7.17,11.30 C-2.05,11.30 -20.50,7.01 -20.50,0Z" transform="translate(313.8,563) rotate(-58)" fill="url(#gToe)"/><path d="M-18.80,0 C-18.80,-6.57 -2.82,-10.60 5.64,-10.60 C13.91,-10.60 18.80,-6.15 18.80,0 C18.80,6.15 13.91,10.60 5.64,10.60 C-2.82,10.60 -18.80,6.57 -18.80,0Z" transform="translate(341.1,555.0) rotate(-66)" fill="#0a0b10" opacity="0.55" filter="url(#b1)"/><path d="M-18.00,0 C-18.00,-6.08 -2.70,-9.80 5.40,-9.80 C13.32,-9.80 18.00,-5.68 18.00,0 C18.00,5.68 13.32,9.80 5.40,9.80 C-2.70,9.80 -18.00,6.08 -18.00,0Z" transform="translate(340.3,554) rotate(-66)" fill="url(#gToe)"/><path d="M327,460 L339.5,467.5 L341,491 L329,501.5 L315.5,493 L314,470Z" fill="#0b0b0d" stroke="#0b0b0d" stroke-width="4.5" stroke-linejoin="round"/><circle cx="327" cy="480.5" r="11.5" fill="#101012"/><circle cx="327" cy="480.5" r="10" fill="none" stroke="#d8d8d8" stroke-width="2.2" stroke-dasharray="0.7 1.25" opacity="0.85"/><circle cx="327" cy="480.5" r="6.5" fill="#08080a"/><path d="M333.5,477.5 l5,-3.2 l0.8,7 z" fill="#f0f0f0"/><path d="M330,476 l3,-0.5 l-1,2.2z" fill="#cfcfcf"/><ellipse cx="431" cy="347" rx="6.6" ry="5.6" fill="#5e0a0f" opacity="0.85" filter="url(#b1)"/><ellipse cx="431" cy="347.3" rx="3.6" ry="3.0" fill="#6a3a1c"/><circle cx="430.2" cy="346.7" r="1.3" fill="#b8862e"/><circle cx="432.5" cy="347.8" r="1.25" fill="#f6ece0"/><ellipse cx="365.8" cy="403.5" rx="6.6" ry="5.6" fill="#5e0a0f" opacity="0.85" filter="url(#b1)"/><ellipse cx="365.8" cy="403.8" rx="3.6" ry="3.0" fill="#6a3a1c"/><circle cx="365.0" cy="403.2" r="1.3" fill="#b8862e"/><circle cx="367.3" cy="404.3" r="1.25" fill="#f6ece0"/><ellipse cx="363" cy="474.5" rx="6.6" ry="5.6" fill="#5e0a0f" opacity="0.85" filter="url(#b1)"/><ellipse cx="363" cy="474.8" rx="3.6" ry="3.0" fill="#6a3a1c"/><circle cx="362.2" cy="474.2" r="1.3" fill="#b8862e"/><circle cx="364.5" cy="475.3" r="1.25" fill="#f6ece0"/><ellipse cx="296" cy="481" rx="6.6" ry="5.6" fill="#5e0a0f" opacity="0.85" filter="url(#b1)"/><ellipse cx="296" cy="481.3" rx="3.6" ry="3.0" fill="#6a3a1c"/><circle cx="295.2" cy="480.7" r="1.3" fill="#b8862e"/><circle cx="297.5" cy="481.8" r="1.25" fill="#f6ece0"/><ellipse cx="383.8" cy="341.2" rx="9" ry="7.6" fill="#1b2a4e" filter="url(#b05)" transform="rotate(-20 383.8 341.2)"/><ellipse cx="383.8" cy="341.5" rx="5" ry="4.2" fill="#5a3a30"/><circle cx="382.5" cy="340" r="1.6" fill="#a8682e"/><circle cx="385.5" cy="344.5" r="1.5" fill="#f4efe8"/><ellipse cx="387.5" cy="336" rx="2.6" ry="1.4" fill="#aab4c8" transform="rotate(-30 387.5 336)"/><ellipse cx="502" cy="259" rx="5" ry="3" fill="#0a3278" filter="url(#b05)"/><ellipse cx="502" cy="259" rx="3.2" ry="2.1" fill="#6a2418"/><circle cx="503.6" cy="258.4" r="0.9" fill="#f3e6d8"/><ellipse cx="468.5" cy="280" rx="5.5" ry="3.3" fill="#0a3278" filter="url(#b05)"/><ellipse cx="468.5" cy="280" rx="3.5" ry="2.3" fill="#5a2018"/><circle cx="471.3" cy="279" r="1.1" fill="#f6f0ea"/><path id="mp" d="M437.5,410 Q460,370 488,342" fill="none"/><text filter="url(#b03)" font-family="Liberation Sans, sans-serif" font-size="14" font-weight="bold" fill="#f2f2f2" letter-spacing="2.7"><textPath href="#mp">Magnetic</textPath></text><clipPath id="cFab"><ellipse cx="142.6" cy="392.5" rx="38.4" ry="35.3"/></clipPath><ellipse cx="142.6" cy="392.5" rx="38.4" ry="35.3" fill="#2b2d31"/><ellipse cx="142.6" cy="392.5" rx="38.4" ry="35.3" fill="#fff" opacity="0.12" filter="url(#noise)"/><ellipse cx="142.6" cy="392.5" rx="38.4" ry="35.3" fill="#7c7f85" opacity="0.3" filter="url(#noiseF)"/><ellipse cx="142.6" cy="392.5" rx="38.4" ry="35.3" fill="#000" opacity="0.35" filter="url(#noiseD)"/><g clip-path="url(#cFab)"><path d="M100,404 C108,400 118,400 127.5,403 C137,406.5 148,414.5 157,425 L162,440 L100,440Z" fill="#1b9fe8"/><path d="M104,402.6 C110,400.3 118,400 127.5,403 C137,406.5 148,414.5 157,425" fill="none" stroke="#bfe6fb" stroke-width="1.3" stroke-dasharray="1.2 1.4" opacity="0.85"/><path d="M112,410 C125,409 140,417 150,428" fill="none" stroke="#3db4f2" stroke-width="5" opacity="0.5" filter="url(#b2)"/></g><clipPath id="cEva"><ellipse cx="556" cy="519.5" rx="44" ry="40.7"/></clipPath><ellipse cx="556" cy="519.5" rx="44" ry="40.7" fill="#2b2a29"/><ellipse cx="556" cy="519.5" rx="44" ry="40.7" fill="#fff" opacity="0.10" filter="url(#noise)"/><g clip-path="url(#cEva)"><ellipse cx="533" cy="514" rx="17" ry="15" fill="#4a4846" opacity="0.55" filter="url(#b2)"/><ellipse cx="575" cy="540" rx="16" ry="12" fill="#3c3a38" opacity="0.5" filter="url(#b2)"/><ellipse cx="585" cy="495" rx="14" ry="9" fill="#121110" opacity="0.5" filter="url(#b2)"/></g><g clip-path="url(#cEva)"><path d="M547.8,478.0 L563.5,506.0 L602.0,507.8" fill="none" stroke="#161514" stroke-width="7.5" stroke-linejoin="round" filter="url(#b1)"/><path d="M563.5,506.0 L548.6,528.8 L565.3,562.0" fill="none" stroke="#161514" stroke-width="7.5" stroke-linejoin="round" filter="url(#b1)"/><path d="M548.6,528.8 L512.8,544.5" fill="none" stroke="#161514" stroke-width="7.5" stroke-linejoin="round" filter="url(#b1)"/><path d="M560.9,479.8 L570.9,498.7" fill="none" stroke="#aeaeab" stroke-width="1.2" filter="url(#b05)"/><path d="M554.4,532.3 L566.5,557.1" fill="none" stroke="#aeaeab" stroke-width="1.2" filter="url(#b05)"/></g><path d="M324.0,650.7 L366.6,648.2 L392.5,680.8 L369.1,727.5 L331.5,733.4 L301.5,686.6Z" fill="#170d0b" stroke="#170d0b" stroke-width="4.5" stroke-linejoin="round"/><path d="M324.0,650.7 L366.6,648.2 L392.5,680.8 L369.1,727.5 L331.5,733.4 L301.5,686.6Z" fill="none" stroke="#5a4740" stroke-width="1.6" stroke-dasharray="1 1.2" stroke-linejoin="round" transform="translate(347,690) scale(1.01) translate(-347,-690)"/><circle cx="347.5" cy="690" r="20" fill="#070404"/><circle cx="347.5" cy="690" r="20" fill="none" stroke="#2a1d1a" stroke-width="1"/><path id="hp" d="M345.35,713.4 A23.5,23.5 0 1 1 357.3,711.3" fill="none"/><text filter="url(#b03)" font-family="Liberation Sans, sans-serif" font-size="10.8" font-weight="bold" fill="#f6f6f6" letter-spacing="0" textLength="134" lengthAdjust="spacingAndGlyphs"><textPath href="#hp">Magnetic Therapy Power</textPath></text><path d="M348,667 l6,0.5 l-1,4 l-5,-1z" fill="#f0f0f0"/><path d="M363,682 l5,-3 l2,9 l-4,3z" fill="#5a5a5a" opacity="0.8"/><g stroke-linecap="round"><path d="M255.5,258 L502,259" stroke="#56e070" stroke-width="2.4" opacity="0.3" filter="url(#b05)"/><path d="M255.5,258 L502,259" stroke="#2fcf4c" stroke-width="1.0"/><path d="M255.5,258 L469.5,279.3" stroke="#56e070" stroke-width="2.4" opacity="0.3" filter="url(#b05)"/><path d="M255.5,258 L469.5,279.3" stroke="#2fcf4c" stroke-width="1.0"/><path d="M255.5,258 L384,341" stroke="#56e070" stroke-width="2.4" opacity="0.3" filter="url(#b05)"/><path d="M255.5,258 L384,341" stroke="#2fcf4c" stroke-width="1.0"/><path d="M255.5,258 L431,347" stroke="#56e070" stroke-width="2.4" opacity="0.3" filter="url(#b05)"/><path d="M255.5,258 L431,347" stroke="#2fcf4c" stroke-width="1.0"/><path d="M255.5,258 L365.8,403.5" stroke="#56e070" stroke-width="2.4" opacity="0.3" filter="url(#b05)"/><path d="M255.5,258 L365.8,403.5" stroke="#2fcf4c" stroke-width="1.0"/><path d="M255.5,258 L363,474.5" stroke="#56e070" stroke-width="2.4" opacity="0.3" filter="url(#b05)"/><path d="M255.5,258 L363,474.5" stroke="#2fcf4c" stroke-width="1.0"/><path d="M255.5,258 L296,481" stroke="#56e070" stroke-width="2.4" opacity="0.3" filter="url(#b05)"/><path d="M255.5,258 L296,481" stroke="#2fcf4c" stroke-width="1.0"/><path d="M150,428.5 L243,575" stroke="#2fae50" stroke-width="0.9"/><path d="M327.5,480 L344.5,646" stroke="#56e070" stroke-width="2.6" opacity="0.3" filter="url(#b05)"/><path d="M327.5,480 L344.5,646" stroke="#2fc94a" stroke-width="1.2"/><path d="M457,405.5 L522,493" stroke="#2fae50" stroke-width="0.9"/></g><g clip-path="url(#cRed)" stroke-linecap="round"><path d="M255.5,258 L502,259" stroke="#c9a62c" stroke-width="1.5"/><path d="M255.5,258 L469.5,279.3" stroke="#c9a62c" stroke-width="1.5"/><path d="M255.5,258 L384,341" stroke="#c9a62c" stroke-width="1.5"/><path d="M255.5,258 L431,347" stroke="#c9a62c" stroke-width="1.5"/><path d="M255.5,258 L365.8,403.5" stroke="#c9a62c" stroke-width="1.5"/><path d="M255.5,258 L363,474.5" stroke="#c9a62c" stroke-width="1.5"/><path d="M255.5,258 L296,481" stroke="#c9a62c" stroke-width="1.5"/><path d="M327.5,480 L344.5,646" stroke="#a9b030" stroke-width="1.4"/></g><g clip-path="url(#cHeel)" stroke-linecap="round"><path d="M255.5,258 L502,259" stroke="#35d860" stroke-width="1.5"/><path d="M255.5,258 L469.5,279.3" stroke="#35d860" stroke-width="1.5"/></g><circle cx="243" cy="575" r="1.8" fill="#e8452c"/><circle cx="457" cy="405.5" r="1.8" fill="#d8302c"/><circle cx="327.5" cy="480.5" r="1.5" fill="#e0402c"/><circle cx="233.5" cy="244.5" r="35" fill="#040404"/><clipPath id="cBall"><circle cx="233.5" cy="244.5" r="35"/></clipPath><g clip-path="url(#cBall)"><path d="M203.2,239.5C204.1,236.1 206.6,234.6 208.5,232.7C210.4,230.9 212.9,228.1 214.8,228.2C216.7,228.4 218.0,231.4 219.7,233.5C221.4,235.6 222.8,238.0 225.0,241.0C227.2,244.0 232.3,249.0 232.8,251.5C233.3,254.0 229.7,254.6 228.0,256.0C226.3,257.4 224.2,258.0 222.7,259.7C221.3,261.5 220.5,264.7 219.3,266.5C218.0,268.2 217.2,270.7 215.2,270.2C213.3,269.7 209.7,266.4 207.7,263.5C205.7,260.6 204.0,257.0 203.2,253.0C202.5,249.0 202.4,242.9 203.2,239.5Z" fill="#f3f8fc"/><path d="M231.7,231.2C233.0,229.1 236.6,226.5 240.0,225.2C243.4,224.0 248.4,223.7 252.0,223.7C255.6,223.7 259.2,223.4 261.7,225.2C264.2,227.1 266.0,230.9 267.0,235.0C268.0,239.1 268.1,246.0 267.7,250.0C267.4,254.0 266.6,256.2 264.7,259.0C262.9,261.7 258.7,265.6 256.5,266.5C254.2,267.4 252.4,266.2 251.2,264.2C250.1,262.2 250.6,257.1 249.7,254.5C248.9,251.9 247.9,250.1 246.0,248.5C244.1,246.9 240.7,246.5 238.5,244.7C236.2,243.0 233.6,240.2 232.5,238.0C231.4,235.7 230.5,233.4 231.7,231.2Z" fill="#f3f8fc"/></g>
</svg>
</body></html>
